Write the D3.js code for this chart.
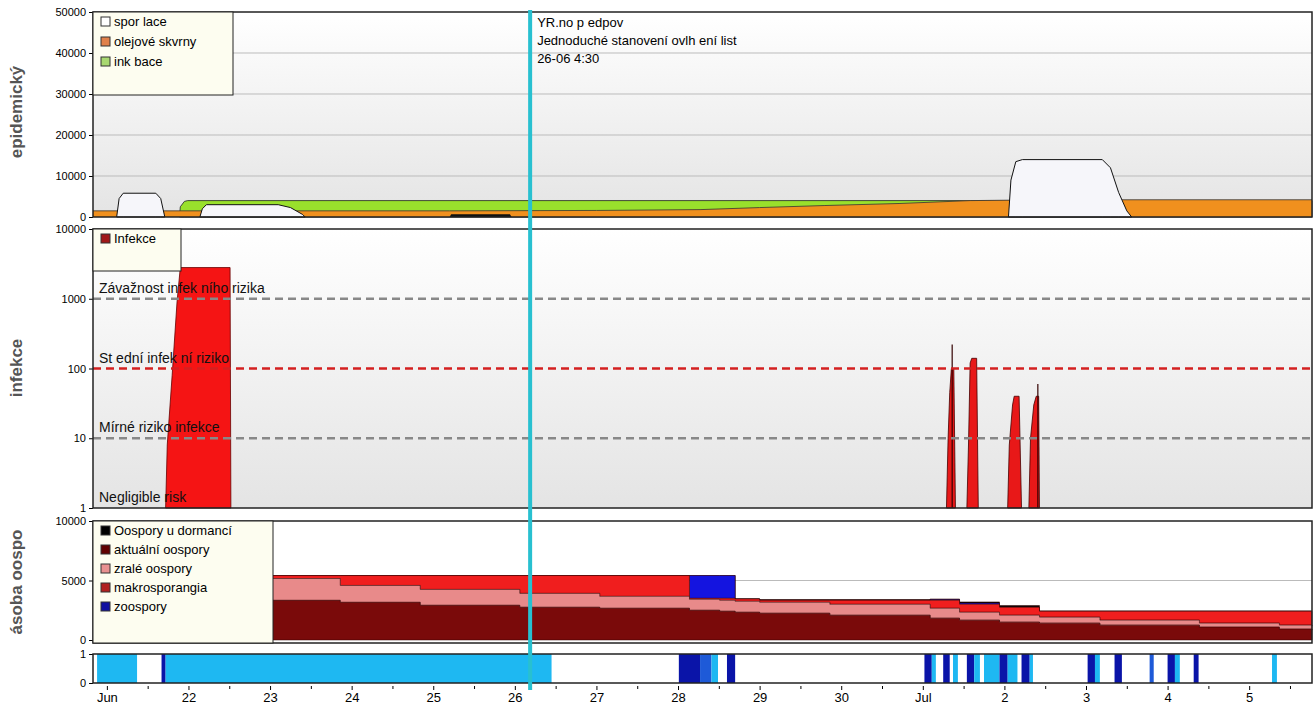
<!DOCTYPE html>
<html><head><meta charset="utf-8">
<script src="https://cdn.jsdelivr.net/npm/d3@7"></script>
<style>body{margin:0;background:#fff}text{font-family:"Liberation Sans",Arial,sans-serif}</style>
</head><body><svg id="c" width="1316" height="707"></svg>
<script>
// ---------- DATA (x in days: Jun 21 = 21, Jul 1 = 31) ----------
const dayTicks = [21,22,23,24,25,26,27,28,29,30,31,32,33,34,35];
const dayLabels = ["Jun","22","23","24","25","26","27","28","29","30","Jul","2","3","4","5"];
const forecastDay = 26.1875;
const forecastText = ["YR.no p edpov","Jednoduché stanovení ovlh ení list","26-06 4:30"];

const inkubace = [[21.89,0],[21.9,2500],[21.95,3800],[21.99,4000],[35.77,4000],[35.77,0]];
const olejove = [[20.83,1500],[22.5,1500],[25.2,1500],[27.0,1600],[28.27,1800],[29.0,2300],[29.8,2800],[30.72,3300],[31.58,4000],[32.5,4200],[35.77,4200]];
const dormant1 = [[25.2,0],[25.22,700],[25.94,700],[25.96,0]];
const sporulace1 = [[21.12,0],[21.15,4500],[21.2,5800],[21.6,5800],[21.66,4500],[21.71,0]];
const sporulace2 = [[22.14,0],[22.17,2000],[22.22,3000],[23.1,3000],[23.25,2300],[23.4,600],[23.43,0]];
const sporulace3 = [[32.05,0],[32.08,9000],[32.14,13500],[32.22,14000],[33.2,14000],[33.3,12000],[33.4,6000],[33.5,1500],[33.56,0]];

const infekce1 = [[21.72,1],[21.74,8],[21.8,80],[21.86,900],[21.9,2800],[22.51,2800],[22.52,1]];
const infSpikes = [
  [[31.29,1],[31.31,10],[31.33,45],[31.35,100],[31.38,100],[31.4,1]],
  [[31.54,1],[31.56,8],[31.58,120],[31.6,140],[31.66,140],[31.68,1]],
  [[32.04,1],[32.06,8],[32.1,30],[32.12,40],[32.18,40],[32.21,1]],
  [[32.3,1],[32.32,10],[32.36,30],[32.39,40],[32.42,40],[32.43,1]]];
const infNeedles = [[31.36,220],[32.41,60]];
const riskLevels = [1000,100,10,1];
const riskLabels = ["Závažnost infek ního rizika","St ední infek ní riziko","Mírné riziko infekce","Negligible risk"];

// oospore stack: cumulative tops per layer at sample days
const oDays =   [23.01,23.86,24.84,26.06,27.04,28.14,28.51,28.70,29.00,29.86,31.09,31.45,31.94,32.43,33.17,34.39,35.37,35.77];
const oAktual = [3333,3167,2917,2750,2667,2500,2417,2333,2250,2083,1833,1667,1500,1417,1250,1083,917,833];
const oZrale =  [5167,4583,4250,3917,3667,3417,3333,3250,3167,3000,2667,2333,2083,1917,1667,1417,1250,1167];
const oMakro =  [5417,5417,5417,5417,5417,3500,3500,3450,3333,3333,3333,3000,2750,2417,2417,2417,2417,2417];
const oZoo =    [5417,5417,5417,5417,5417,5417,5417,3450,3333,3333,3400,3100,2750,2417,2417,2417,2417,2417];
const oDorm =   [5417,5417,5417,5417,5417,5417,5417,3450,3400,3400,3450,3200,2900,2417,2417,2417,2417,2417];

// leaf wetness intervals [start, end, kind]
const wet = [[20.88,21.37,"l"],[21.67,21.72,"d"],[21.72,26.45,"l"],[28.01,28.27,"d"],[28.27,28.41,"m"],[28.41,28.49,"l"],[28.6,28.7,"d"],
 [31.02,31.11,"d"],[31.11,31.16,"l"],[31.25,31.33,"d"],[31.37,31.43,"l"],[31.54,31.63,"d"],[31.63,31.7,"l"],[31.75,31.94,"l"],[31.94,32.04,"d"],
 [32.04,32.16,"l"],[32.21,32.31,"d"],[32.31,32.35,"l"],[33.02,33.11,"d"],[33.11,33.17,"l"],[33.35,33.44,"d"],[33.78,33.83,"m"],[34.0,34.09,"d"],
 [34.09,34.15,"l"],[34.32,34.38,"d"],[35.28,35.34,"l"]];

// ---------- DRAW ----------
const svg = d3.select("#c");
const L=93, R=1312;
const x = d3.scaleLinear().domain([20.83,35.77]).range([L,R]);
const defs = svg.append("defs");
const g = defs.append("linearGradient").attr("id","bg").attr("x1",0).attr("x2",0).attr("y1",0).attr("y2",1);
g.append("stop").attr("offset","0%").attr("stop-color","#ffffff");
g.append("stop").attr("offset","100%").attr("stop-color","#e4e4e4");

function panel(top,bot,grad){
  svg.append("rect").attr("x",L).attr("y",top).attr("width",R-L).attr("height",bot-top)
    .attr("fill",grad?"url(#bg)":"#fff");
}
function frame(top,bot){
  svg.append("rect").attr("x",L).attr("y",top).attr("width",R-L).attr("height",bot-top)
    .attr("fill","none").attr("stroke","#222").attr("stroke-width",1.5);
}
function yaxis(scale,vals,fmt){
  const a=svg.append("g").attr("transform",`translate(${L},0)`)
   .call(d3.axisLeft(scale).tickValues(vals).tickFormat(fmt).tickSize(4));
  a.selectAll("text").attr("font-size",11).attr("fill","#000");
  a.select(".domain").remove();
}
function ylabel(t,cy){
  svg.append("text").attr("transform",`translate(22,${cy}) rotate(-90)`).attr("text-anchor","middle")
   .attr("font-size",17).attr("font-weight","bold").attr("fill","#555").text(t);
}
const areaOf = y => d3.area().x(d=>x(d[0])).y0(y.range()[0]).y1(d=>y(d[1]));

// Panel 1
const y1 = d3.scaleLinear().domain([0,50000]).range([217,12]);
panel(12,217,true);
[10000,20000,30000,40000].forEach(v=>svg.append("line").attr("x1",L).attr("x2",R).attr("y1",y1(v)).attr("y2",y1(v)).attr("stroke","#bbb"));
const a1=areaOf(y1);
const lw = d3.line().x(d=>x(d[0])).y(d=>y1(d[1]));
svg.append("path").datum(inkubace).attr("d",a1).attr("fill","#99e02c").attr("stroke","#222").attr("stroke-width",0.8);
svg.append("path").datum(olejove.concat([[35.77,0],[20.83,0]])).attr("d",a1).attr("fill","#f0901e");
svg.append("path").datum(olejove).attr("d",lw).attr("fill","none").attr("stroke","#333").attr("stroke-width",0.8);
svg.append("path").datum(dormant1).attr("d",a1).attr("fill","#111");
[sporulace1,sporulace2,sporulace3].forEach(s=>svg.append("path").datum(s).attr("d",a1).attr("fill","#f6f6fa").attr("stroke","#111").attr("stroke-width",1));
yaxis(y1,[0,10000,20000,30000,40000,50000],d3.format("d"));
ylabel("epidemický",112);

// Panel 2
const y2 = d3.scaleLog().domain([1,10000]).range([508,229]);
panel(229,508,true);
const a2=areaOf(y2);
svg.append("path").datum(infekce1).attr("d",a2).attr("fill","#f51414").attr("stroke","#600").attr("stroke-width",0.8);
infSpikes.forEach(s=>svg.append("path").datum(s).attr("d",a2).attr("fill","#e81818").attr("stroke","#400").attr("stroke-width",0.8));
infNeedles.forEach(n=>svg.append("line").attr("x1",x(n[0])).attr("x2",x(n[0])).attr("y1",y2(1)).attr("y2",y2(n[1])).attr("stroke","#300").attr("stroke-width",1.2));
riskLevels.forEach((v,i)=>{
  if(v>1) svg.append("line").attr("x1",L).attr("x2",R).attr("y1",y2(v)).attr("y2",y2(v))
    .attr("stroke",v===100?"#d42020":"#888").attr("stroke-width",2.5).attr("stroke-dasharray","8,5");
  svg.append("text").attr("x",L+6).attr("y",y2(v)-6).attr("font-size",14).attr("fill","#111").text(riskLabels[i]);
});
yaxis(y2,[1,10,100,1000,10000],d3.format("d"));
ylabel("infekce",368);

// Panel 3
const y3 = d3.scaleLinear().domain([0,10000]).range([640,521]);
panel(521,643,false);
svg.append("line").attr("x1",L).attr("x2",R).attr("y1",y3(5000)).attr("y2",y3(5000)).attr("stroke","#bbb");
const layers=[[oDorm,oZoo,"#080808"],[oZoo,oMakro,"#1414e0"],[oMakro,oZrale,"#f01e1e"],[oZrale,oAktual,"#e88a8a"],[oAktual,null,"#7a0a0a"]];
const ar3 = d3.area().curve(d3.curveStepAfter).x((d,i)=>x(oDays[i]));
layers.forEach(([top,bot,c])=>{
  svg.append("path").datum(oDays).attr("d",ar3.y1((d,i)=>y3(top[i])).y0((d,i)=>y3(bot?bot[i]:0))).attr("fill",c)
    .attr("stroke","#300").attr("stroke-width",0.5);
});
yaxis(y3,[0,5000,10000],d3.format("d"));
ylabel("ásoba oospo",582);

// Panel 4
const y4 = d3.scaleLinear().domain([0,1]).range([683,654]);
panel(654,683,false);
const wc={l:"#1eb8f2",d:"#0a14a8",m:"#1e5ad8"};
svg.selectAll(".w").data(wet).enter().append("rect").attr("x",d=>x(d[0])).attr("width",d=>x(d[1])-x(d[0]))
  .attr("y",y4(1)).attr("height",y4(0)-y4(1)).attr("fill",d=>wc[d[2]]);
yaxis(y4,[0,1],d3.format("d"));

// frames
frame(12,217);frame(229,508);frame(521,643);frame(654,683);

// x axis
const xa=svg.append("g").attr("transform","translate(0,686)")
 .call(d3.axisBottom(x).tickValues(dayTicks).tickFormat((d,i)=>dayLabels[i]).tickSize(4));
xa.selectAll("text").attr("font-size",13).attr("fill","#000");
xa.select(".domain").remove();
svg.append("g").attr("transform","translate(0,686)").call(d3.axisBottom(x).tickValues(dayTicks.map(d=>d+0.5)).tickFormat("").tickSize(3)).select(".domain").remove();

// legends
function legend(x0,y0,w,h,items,fs,dy){
  svg.append("rect").attr("x",x0).attr("y",y0).attr("width",w).attr("height",h).attr("fill","#fdfdf0").attr("stroke","#222");
  items.forEach((it,i)=>{
    svg.append("rect").attr("x",x0+8).attr("y",y0+14+i*dy-9).attr("width",9).attr("height",9).attr("fill",it[1]).attr("stroke","#333");
    svg.append("text").attr("x",x0+21).attr("y",y0+14+i*dy).attr("font-size",fs).text(it[0]);
  });
}
legend(L,12,140,83,[["spor lace","#fff"],["olejové skvrny","#e0804a"],["ink bace","#a8d870"]],13,20);
legend(L,229,88,42,[["Infekce","#a01818"]],13,20);
legend(L,521,180,122,[["Oospory u dormancí","#000"],["aktuální oospory","#600000"],["zralé oospory","#e89090"],["makrosporangia","#b02020"],["zoospory","#1010a0"]],13,19);

// forecast line
svg.append("line").attr("x1",x(forecastDay)).attr("x2",x(forecastDay)).attr("y1",10).attr("y2",690).attr("stroke","#28c0d0").attr("stroke-width",4);
forecastText.forEach((t,i)=>svg.append("text").attr("x",x(forecastDay)+7).attr("y",27+i*18).attr("font-size",13).text(t));
</script></body></html>
